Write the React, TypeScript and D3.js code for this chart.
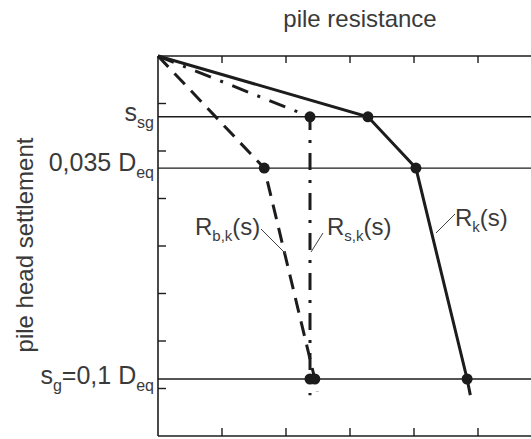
import React, { useEffect, useRef } from 'react';
import * as d3 from 'd3';

// settlement levels (in tick units, 8 ticks down the axis)
const sSg = 1.28;
const s035 = 2.36;
const sG = 6.8;

const levels = [sSg, s035, sG];
const levelLabels = [
  { main: 's', sub: 'sg', dy: 4 },
  { main: '0,035 D', sub: 'eq', dy: 3 },
  { main: 's', sub: 'g', rest: '=0,1 D', sub2: 'eq', dy: 5 },
];

// resistance curves: [resistance, settlement]
const rk: [number, number][] = [[0, 0], [3.28, sSg], [4.03, s035], [4.83, sG], [4.88, 7.14]];
const rsk: [number, number][] = [[0, 0], [2.375, sSg], [2.375, sG], [2.375, 7.14]];
const rbk: [number, number][] = [[0, 0], [1.66, s035], [2.45, sG], [2.49, 7.07]];

const rkDots: [number, number][] = [[3.28, sSg], [4.03, s035], [4.83, sG]];
const rskDots: [number, number][] = [[2.375, sSg], [2.375, sG]];
const rbkDots: [number, number][] = [[1.66, s035], [2.45, sG]];

const xTicks = [1, 2, 3, 4, 5, 6];
const yTicks = [1, 2, 3, 4, 5, 6, 7];

const App = () => {
  const svgRef = useRef<SVGSVGElement>(null);

  useEffect(() => {
    const W = 531;
    const H = 439;
    const left = 158, top = 56, bottom = 436;
    const ink = '#1c1c1c';
    const textCol = '#3a3a3a';
    const font = '"Liberation Sans", Arial, sans-serif';

    const svg = d3.select(svgRef.current);
    svg.selectAll('*').remove();
    svg.attr('width', W).attr('height', H);

    svg.append('rect').attr('width', W).attr('height', H).attr('fill', 'white');

    const x = d3.scaleLinear().domain([0, 6]).range([left, left + 384]);
    const y = d3.scaleLinear().domain([0, 8]).range([top, bottom]);

    // frame
    svg.append('line')
      .attr('x1', left).attr('y1', top).attr('x2', W).attr('y2', top)
      .attr('stroke', ink).attr('stroke-width', 1.6);
    svg.append('line')
      .attr('x1', left).attr('y1', bottom).attr('x2', W).attr('y2', bottom)
      .attr('stroke', ink).attr('stroke-width', 1.6);
    svg.append('line')
      .attr('x1', left).attr('y1', top).attr('x2', left).attr('y2', bottom)
      .attr('stroke', ink).attr('stroke-width', 1.6);

    // ticks
    xTicks.forEach(t => {
      svg.append('line')
        .attr('x1', x(t)).attr('x2', x(t)).attr('y1', top).attr('y2', top + 7)
        .attr('stroke', ink).attr('stroke-width', 1.4);
      svg.append('line')
        .attr('x1', x(t)).attr('x2', x(t)).attr('y1', bottom).attr('y2', bottom - 8)
        .attr('stroke', ink).attr('stroke-width', 1.4);
    });
    yTicks.forEach(t => {
      svg.append('line')
        .attr('x1', left).attr('x2', left + 8).attr('y1', y(t)).attr('y2', y(t))
        .attr('stroke', ink).attr('stroke-width', 1.4);
    });

    // settlement levels
    levels.forEach(l => {
      svg.append('line')
        .attr('x1', left).attr('x2', W).attr('y1', y(l)).attr('y2', y(l))
        .attr('stroke', ink).attr('stroke-width', 1.4);
    });

    const line = d3.line<[number, number]>()
      .x(d => x(d[0]))
      .y(d => y(d[1]));

    svg.append('path').datum(rbk)
      .attr('fill', 'none').attr('stroke', ink).attr('stroke-width', 3)
      .attr('stroke-dasharray', '15,9')
      .attr('d', line);

    svg.append('path').datum(rsk)
      .attr('fill', 'none').attr('stroke', ink).attr('stroke-width', 3)
      .attr('stroke-dasharray', '17,10,3,10')
      .attr('d', line);

    svg.append('path').datum(rk)
      .attr('fill', 'none').attr('stroke', ink).attr('stroke-width', 3)
      .attr('d', line);

    [...rkDots, ...rskDots, ...rbkDots].forEach(d => {
      svg.append('circle')
        .attr('cx', x(d[0])).attr('cy', y(d[1])).attr('r', 5.5)
        .attr('fill', ink);
    });

    // curve labels with leader lines
    const curveLabels = [
      { sub: 'b,k', tx: 195, ty: 235, l: [261, 229, 286, 254] },
      { sub: 's,k', tx: 327, ty: 235, l: [323, 233, 311, 252] },
      { sub: 'k', tx: 455, ty: 226, l: [455, 214, 436, 233] },
    ];
    curveLabels.forEach(c => {
      svg.append('line')
        .attr('x1', c.l[0]).attr('y1', c.l[1]).attr('x2', c.l[2]).attr('y2', c.l[3])
        .attr('stroke', '#444').attr('stroke-width', 1);
      const t = svg.append('text')
        .attr('x', c.tx).attr('y', c.ty)
        .attr('font-family', font).attr('font-size', 24).attr('fill', textCol);
      t.append('tspan').text('R');
      t.append('tspan').attr('font-size', 15).attr('dy', 6).text(c.sub);
      t.append('tspan').attr('dy', -6).text('(s)');
    });

    // settlement level labels
    levelLabels.forEach((lb, i) => {
      const t = svg.append('text')
        .attr('x', 154).attr('y', y(levels[i]) + lb.dy)
        .attr('text-anchor', 'end')
        .attr('font-family', font).attr('font-size', 25).attr('fill', textCol);
      t.append('tspan').text(lb.main);
      t.append('tspan').attr('font-size', 16).attr('dy', 7).text(lb.sub);
      if (lb.rest) {
        t.append('tspan').attr('dy', -7).text(lb.rest);
        t.append('tspan').attr('font-size', 16).attr('dy', 7).text(lb.sub2 as string);
      }
    });

    // axis titles
    svg.append('text')
      .attr('x', 360).attr('y', 27)
      .attr('text-anchor', 'middle')
      .attr('font-family', font).attr('font-size', 24).attr('fill', textCol)
      .text('pile resistance');

    svg.append('text')
      .attr('transform', 'rotate(-90)')
      .attr('x', -245).attr('y', 33)
      .attr('text-anchor', 'middle')
      .attr('font-family', font).attr('font-size', 24).attr('fill', textCol)
      .text('pile head settlement');
  }, []);

  return <svg ref={svgRef} style={{ position: 'absolute', left: 0, top: 0 }} />;
};

export default App;
